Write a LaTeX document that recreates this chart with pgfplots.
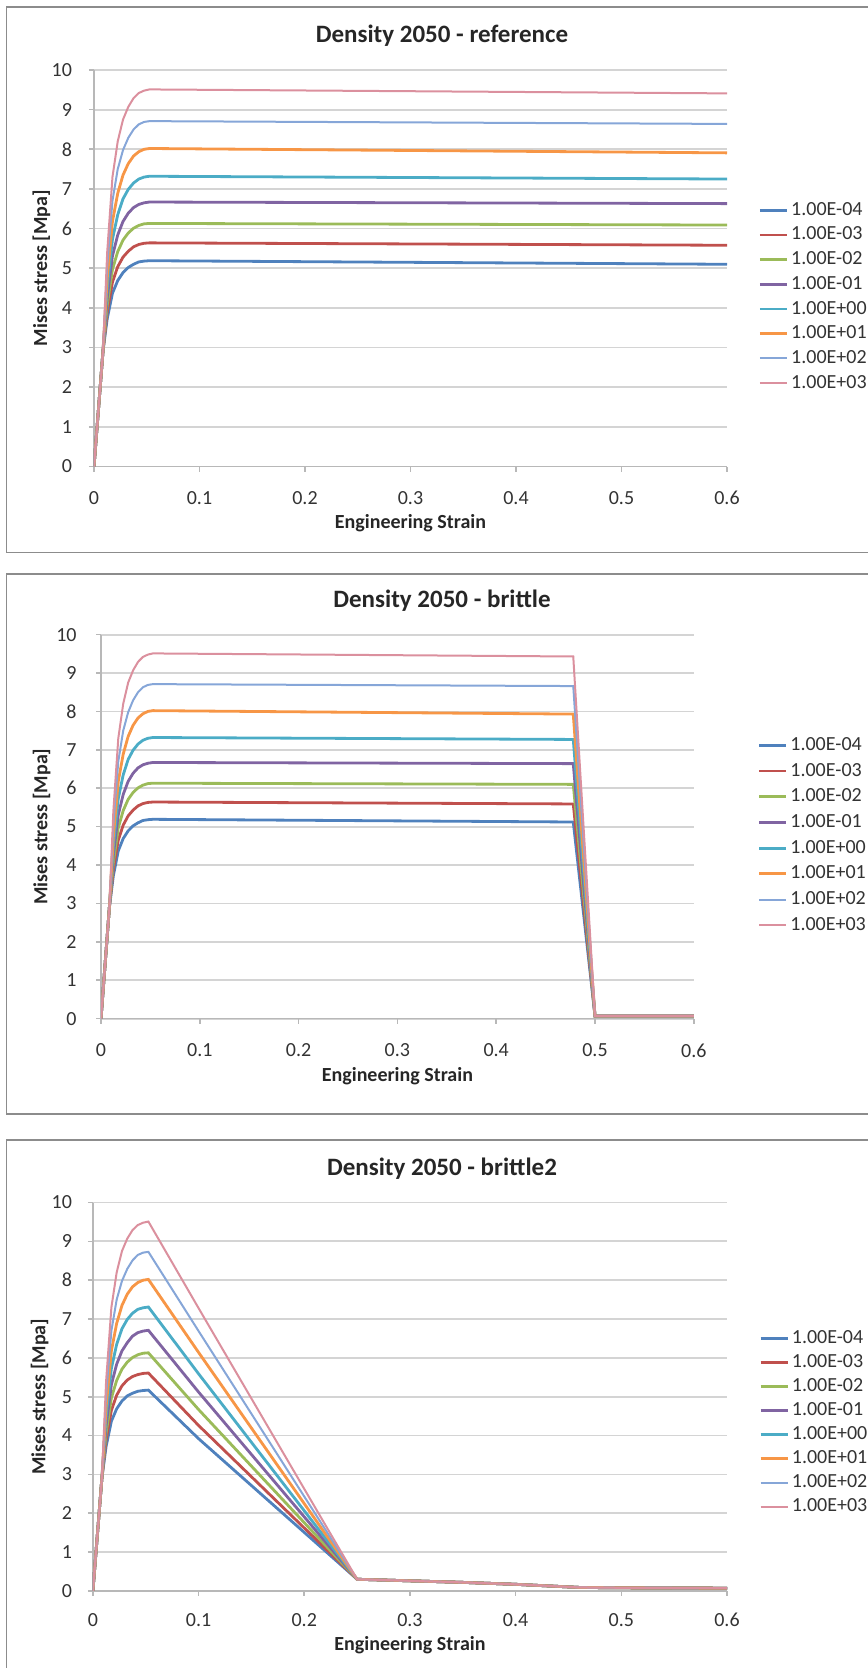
\documentclass[border=0pt]{standalone}
\usepackage{fontspec}
\setmainfont{Carlito}
\usepackage{pgfplots}
\usepackage{pgfplotstable}
\pgfplotsset{compat=1.18}

\definecolor{c1}{HTML}{4F81BD}
\definecolor{c2}{HTML}{C0504D}
\definecolor{c3}{HTML}{9BBB59}
\definecolor{c4}{HTML}{8064A2}
\definecolor{c5}{HTML}{4BACC6}
\definecolor{c6}{HTML}{F79646}
\definecolor{c7}{HTML}{86A6D8}
\definecolor{c8}{HTML}{DB909E}
\definecolor{gridcol}{HTML}{D4D4D4}
\definecolor{axcol}{HTML}{B8B8B8}
\definecolor{framecol}{HTML}{8C8C8C}

% reference: elastic rise, plateau, slow softening
\pgfplotstableread{
x      a    b    c    d    e    f    g    h
0      0    0    0    0    0    0    0    0
0.0085 2.9  2.9  2.9  2.9  2.9  2.9  2.9  2.9
0.0125 3.72 3.89 4.06 4.26 4.49 4.74 5.05 5.40
0.0175 4.37 4.65 4.97 5.31 5.73 6.18 6.70 7.30
0.0225 4.69 5.04 5.42 5.84 6.35 6.89 7.50 8.20
0.0275 4.89 5.28 5.71 6.18 6.75 7.35 7.98 8.75
0.0325 5.02 5.43 5.89 6.39 6.99 7.64 8.29 9.07
0.0375 5.10 5.54 6.01 6.53 7.15 7.83 8.50 9.29
0.0425 5.16 5.60 6.08 6.61 7.25 7.94 8.63 9.42
0.0475 5.18 5.63 6.12 6.65 7.30 8.00 8.69 9.48
0.0525 5.19 5.64 6.13 6.67 7.32 8.02 8.71 9.51
0.6    5.10 5.58 6.09 6.63 7.25 7.91 8.64 9.41
}\tabref

% brittle: same curve, sudden drop near 0.48
\pgfplotstableread{
x      a    b    c    d    e    f    g    h
0      0    0    0    0    0    0    0    0
0.0085 2.9  2.9  2.9  2.9  2.9  2.9  2.9  2.9
0.0125 3.72 3.89 4.06 4.26 4.49 4.74 5.05 5.40
0.0175 4.37 4.65 4.97 5.31 5.73 6.18 6.70 7.30
0.0225 4.69 5.04 5.42 5.84 6.35 6.89 7.50 8.20
0.0275 4.89 5.28 5.71 6.18 6.75 7.35 7.98 8.75
0.0325 5.02 5.43 5.89 6.39 6.99 7.64 8.29 9.07
0.0375 5.10 5.54 6.01 6.53 7.15 7.83 8.50 9.29
0.0425 5.16 5.60 6.08 6.61 7.25 7.94 8.63 9.42
0.0475 5.18 5.63 6.12 6.65 7.30 8.00 8.69 9.48
0.0525 5.19 5.64 6.13 6.67 7.32 8.02 8.71 9.51
0.478  5.12 5.59 6.10 6.64 7.27 7.93 8.66 9.43
0.5    0.07 0.07 0.07 0.07 0.07 0.07 0.07 0.07
0.6    0.07 0.07 0.07 0.07 0.07 0.07 0.07 0.07
}\tabbrit

% brittle2: peak at 0.05, near-linear softening to 0.25
\pgfplotstableread{
x      a    b    c    d    e    f    g    h
0      0    0    0    0    0    0    0    0
0.0085 2.9  2.9  2.9  2.9  2.9  2.9  2.9  2.9
0.0125 3.72 3.89 4.06 4.26 4.49 4.74 5.05 5.40
0.0175 4.37 4.65 4.97 5.31 5.73 6.18 6.70 7.30
0.0225 4.69 5.04 5.42 5.84 6.35 6.89 7.50 8.20
0.0275 4.89 5.28 5.71 6.18 6.75 7.35 7.98 8.75
0.0325 5.02 5.43 5.89 6.39 6.99 7.64 8.29 9.07
0.0375 5.09 5.52 6.01 6.56 7.15 7.83 8.51 9.29
0.0425 5.14 5.57 6.08 6.65 7.25 7.94 8.65 9.42
0.0475 5.16 5.60 6.12 6.69 7.29 8.00 8.71 9.48
0.0525 5.17 5.61 6.13 6.71 7.31 8.02 8.73 9.51
0.1    3.92 4.26 4.67 5.12 5.59 6.14 6.69 7.28
0.25   0.30 0.30 0.30 0.30 0.30 0.30 0.30 0.30
0.3    0.26 0.26 0.26 0.26 0.26 0.26 0.26 0.26
0.35   0.22 0.22 0.22 0.22 0.22 0.22 0.22 0.22
0.4    0.17 0.17 0.17 0.17 0.17 0.17 0.17 0.17
0.46   0.09 0.09 0.09 0.09 0.09 0.09 0.09 0.09
0.5    0.08 0.08 0.08 0.08 0.08 0.08 0.08 0.08
0.6    0.07 0.07 0.07 0.07 0.07 0.07 0.07 0.07
}\tabbrittwo

\pgfplotsset{
  xl/.style={
    scale only axis, anchor=south west,
    xmin=0, xmax=0.6, ymin=0, ymax=10,
    xtick={0,0.1,0.2,0.3,0.4,0.5,0.6}, ytick={0,1,...,10},
    axis lines=left, axis line style={-, draw=axcol, line width=0.8pt},
    tick align=outside, major tick length=2.5pt,
    tick style={draw=axcol, line width=0.8pt},
    ymajorgrids, major grid style={draw=gridcol, line width=0.9pt},
    /pgf/number format/assume math mode=true,
    /pgf/number format/fixed,
    ticklabel style={font=\fontsize{10}{12}\selectfont, text=black!80, inner sep=0pt},
    xlabel={Engineering Strain}, ylabel={Mises stress [Mpa]},
    label style={font=\bfseries\fontsize{10}{12}\selectfont, text=black!85, inner sep=0pt},
    legend cell align=left,
    legend image code/.code={\draw[##1] (0pt,0pt) -- (13.5pt,0pt);},
    legend style={draw=none, fill=none, anchor=north west, inner sep=0pt,
      font=\fontsize{10}{12}\selectfont, text=black!80,
      nodes={inner sep=0pt, text height=7pt, text depth=2pt},
      /tikz/every odd column/.append style={column sep=1.5pt}},
    cycle list={
      {c1,line width=1.4pt},{c2,line width=1.4pt},{c3,line width=1.4pt},
      {c4,line width=1.4pt},{c5,line width=1.4pt},{c6,line width=1.4pt},
      {c7,line width=1.0pt},{c8,line width=1.0pt}},
  }
}

\newcommand{\allseries}[1]{%
  \addplot table[x=x,y=a]{#1};
  \addplot table[x=x,y=b]{#1};
  \addplot table[x=x,y=c]{#1};
  \addplot table[x=x,y=d]{#1};
  \addplot table[x=x,y=e]{#1};
  \addplot table[x=x,y=f]{#1};
  \addplot table[x=x,y=g]{#1};
  \addplot table[x=x,y=h]{#1};
  \legend{1.00E-04,1.00E-03,1.00E-02,1.00E-01,1.00E+00,1.00E+01,1.00E+02,1.00E+03}%
}

\begin{document}
\begin{tikzpicture}
\path[use as bounding box] (0pt,0pt) rectangle (433.5pt,-834pt);

% chart frames
\draw[framecol, line width=0.75pt] (434pt,-3.5pt) -- (3.3pt,-3.5pt) -- (3.3pt,-276.3pt) -- (434pt,-276.3pt);
\draw[framecol, line width=0.75pt] (434pt,-287pt) -- (3.3pt,-287pt) -- (3.3pt,-556.9pt) -- (434pt,-556.9pt);
\draw[framecol, line width=0.75pt] (434pt,-570pt) -- (3.3pt,-570pt) -- (3.3pt,-834pt);

% titles
\node[font=\bfseries\fontsize{12.5}{14}\selectfont, text=black!85] at (221pt,-17.85pt) {Density 2050 - reference};
\node[font=\bfseries\fontsize{12.5}{14}\selectfont, text=black!85] at (221pt,-300.35pt) {Density 2050 - brittle};
\node[font=\bfseries\fontsize{12.5}{14}\selectfont, text=black!85] at (221pt,-584.4pt) {Density 2050 - brittle2};

\begin{axis}[xl, at={(47pt,-233.25pt)}, width=316.5pt, height=198.25pt,
  xticklabel style={anchor=center, yshift=-13.4pt},
  yticklabel style={anchor=east, xshift=-8.3pt},
  xlabel style={at={(axis description cs:0.5,-0.143)}, anchor=center},
  ylabel style={at={(axis description cs:-0.083,0.5)}, anchor=center},
  legend style={at={(1.049,0.670)}, row sep=3.35pt}]
\allseries{\tabref}
\end{axis}

\begin{axis}[xl, at={(50.5pt,-509.3pt)}, width=296.4pt, height=192pt,
  xticklabel style={anchor=center, yshift=-13.4pt},
  yticklabel style={anchor=east, xshift=-9.5pt},
  xlabel style={at={(axis description cs:0.5,-0.149)}, anchor=center},
  ylabel style={at={(axis description cs:-0.100,0.5)}, anchor=center},
  legend style={at={(1.107,0.736)}, row sep=3.85pt}]
\allseries{\tabbrit}
\end{axis}

\begin{axis}[xl, at={(46.45pt,-795.45pt)}, width=317.05pt, height=194.2pt,
  xticklabel style={anchor=center, yshift=-12pt},
  yticklabel style={anchor=east, xshift=-7.75pt},
  xlabel style={at={(axis description cs:0.5,-0.140)}, anchor=center},
  ylabel style={at={(axis description cs:-0.084,0.5)}, anchor=center},
  legend style={at={(1.050,0.674)}, row sep=3.03pt}]
\allseries{\tabbrittwo}
\end{axis}
\end{tikzpicture}
\end{document}
